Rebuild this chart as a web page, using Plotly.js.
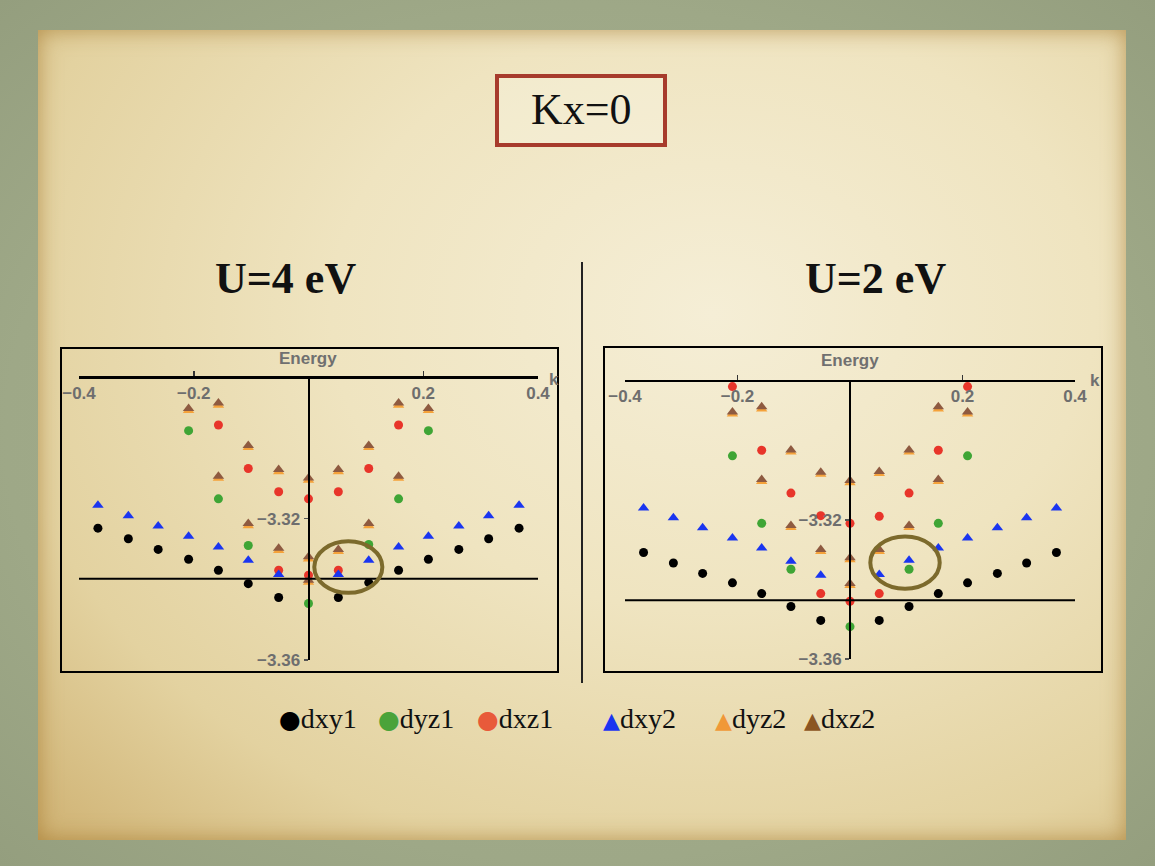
<!DOCTYPE html>
<html>
<head>
<meta charset="utf-8">
<script src="https://cdn.plot.ly/plotly-3.0.1.min.js"></script>
<style>
  body { margin: 0; width: 1155px; height: 866px; overflow: hidden;
         background: radial-gradient(ellipse at 50% 50%, #a9b391 0%, #9ea887 70%, #949e7e 100%); }
  #paper { position: absolute; left: 38px; top: 30px; width: 1088px; height: 810px;
           background: radial-gradient(ellipse at 62% 35%, #f5eed6 0%, #efe4c0 40%, #e3d2a0 75%, #cfb273 100%);
           box-shadow: inset 0 0 22px rgba(160, 115, 40, 0.65); }
  #chart { position: absolute; left: 0; top: 0; }
</style>
</head>
<body>
<div id="paper"></div>
<div id="chart"></div>
<script>
// k points (same grid in both panels)
var k = [-0.367, -0.314, -0.262, -0.209, -0.157, -0.105, -0.052, 0, 0.052, 0.105, 0.157, 0.209, 0.262, 0.314, 0.367];

// U = 4 eV
var dxy1_U4 = [-3.3227, -3.3257, -3.3287, -3.3315, -3.3346, -3.3384, -3.3423, null, -3.3423, -3.3381, -3.3346, -3.3315, -3.3287, -3.3257, -3.3227];
var dyz1_U4 = [null, null, null, -3.2951, -3.3144, -3.3276, null, -3.3440, null, -3.3273, -3.3144, -3.2951, null, null, null];
var dxz1_U4 = [null, null, null, null, -3.2935, -3.3058, -3.3124, -3.3144, -3.3124, -3.3058, -3.2935, null, null, null, null];
var dxz1b_U4 = [null, null, null, null, null, null, -3.3346, -3.3360, -3.3346, null, null, null, null, null, null];
var dxy2_U4 = [-3.3162, -3.3192, -3.3221, -3.3250, -3.3280, -3.3318, -3.3358, null, -3.3358, -3.3318, -3.3280, -3.3250, -3.3221, -3.3192, -3.3162];
var dyz2_U4 = [null, null, null, -3.2894, -3.2879, -3.2999, -3.3067, -3.3091, -3.3067, -3.2999, -3.2879, -3.2894, null, null, null];
var dyz2b_U4 = [null, null, null, null, -3.3086, -3.3220, -3.3290, -3.3314, -3.3293, -3.3220, -3.3086, null, null, null, null];
var dyz2c_U4 = [null, null, null, null, null, null, null, -3.3380, null, null, null, null, null, null, null];
var dxz2_U4 = [null, null, null, -3.2888, -3.2873, -3.2993, -3.3061, -3.3085, -3.3061, -3.2993, -3.2873, -3.2888, null, null, null];
var dxz2b_U4 = [null, null, null, null, -3.3080, -3.3214, -3.3284, -3.3308, -3.3287, -3.3214, -3.3080, null, null, null, null];
var dxz2c_U4 = [null, null, null, null, null, null, null, -3.3374, null, null, null, null, null, null, null];
var EF_U4 = -3.337;

// U = 2 eV
var dxy1_U2 = [-3.3294, -3.3324, -3.3354, -3.3381, -3.3412, -3.3449, -3.3489, null, -3.3489, -3.3449, -3.3412, -3.3381, -3.3354, -3.3324, -3.3294];
var dyz1_U2 = [null, null, null, -3.3016, -3.3210, -3.3342, null, -3.3507, null, -3.3342, -3.3210, -3.3016, null, null, null];
var dxz1_U2 = [null, null, null, -3.2817, -3.3000, -3.3123, -3.3188, -3.3210, -3.3190, -3.3123, -3.3000, -3.2817, null, null, null];
var dxz1b_U2 = [null, null, null, null, null, null, -3.3412, -3.3434, -3.3412, null, null, null, null, null, null];
var dxy2_U2 = [-3.3166, -3.3194, -3.3223, -3.3252, -3.3281, -3.3319, -3.3359, null, -3.3357, -3.3316, -3.3281, -3.3252, -3.3223, -3.3194, -3.3166];
var dyz2_U2 = [null, null, null, -3.2896, -3.2881, -3.3005, -3.3069, -3.3093, -3.3067, -3.3005, -3.2881, -3.2896, null, null, null];
var dyz2b_U2 = [null, null, null, null, -3.3090, -3.3222, -3.3291, -3.3315, -3.3291, -3.3222, -3.3090, null, null, null, null];
var dyz2c_U2 = [null, null, null, null, null, null, null, -3.3389, null, null, null, null, null, null, null];
var dxz2_U2 = [null, null, null, -3.2890, -3.2875, -3.2999, -3.3063, -3.3087, -3.3061, -3.2999, -3.2875, -3.2890, null, null, null];
var dxz2b_U2 = [null, null, null, null, -3.3084, -3.3216, -3.3285, -3.3309, -3.3285, -3.3216, -3.3084, null, null, null, null];
var dxz2c_U2 = [null, null, null, null, null, null, null, -3.3383, null, null, null, null, null, null, null];
var EF_U2 = -3.3431;

var names = ['dxy1', 'dyz1', 'dxz1', 'dxy2', 'dyz2', 'dxz2'];
var colors = ['#000000', '#3fa535', '#e8352a', '#1a35f0', '#f5a23a', '#8e5a40'];
var legendColors = ['#000000', '#4aa33a', '#e85a3a', '#1a35f0', '#f09838', '#8b5523'];
var symbols = ['circle', 'circle', 'circle', 'triangle-up', 'triangle-up', 'triangle-up'];

function series(i, branches, xa, ya) {
    var xs = [], ys = [];
    branches.forEach(function (b) { xs = xs.concat(k); ys = ys.concat(b); });
    return {
        x: xs, y: ys, xaxis: xa, yaxis: ya, type: 'scatter', mode: 'markers',
        name: names[i], showlegend: false, cliponaxis: false, hoverinfo: 'skip',
        marker: {color: colors[i], symbol: symbols[i], size: symbols[i] == 'circle' ? 9 : 10}
    };
}

var data = [
    series(0, [dxy1_U4], 'x', 'y'),
    series(1, [dyz1_U4], 'x', 'y'),
    series(2, [dxz1_U4, dxz1b_U4], 'x', 'y'),
    series(3, [dxy2_U4], 'x', 'y'),
    series(4, [dyz2_U4, dyz2b_U4, dyz2c_U4], 'x', 'y'),
    series(5, [dxz2_U4, dxz2b_U4, dxz2c_U4], 'x', 'y'),
    series(0, [dxy1_U2], 'x2', 'y2'),
    series(1, [dyz1_U2], 'x2', 'y2'),
    series(2, [dxz1_U2, dxz1b_U2], 'x2', 'y2'),
    series(3, [dxy2_U2], 'x2', 'y2'),
    series(4, [dyz2_U2, dyz2b_U2, dyz2c_U2], 'x2', 'y2'),
    series(5, [dxz2_U2, dxz2b_U2, dxz2c_U2], 'x2', 'y2')
];

var W = 1155, H = 866;
function px(x) { return x / W; }
function py(y) { return 1 - y / H; }

var tickFont = {family: 'Liberation Sans, Arial, sans-serif', size: 17, color: '#6e6e6e', weight: 'bold'};

function xAxis(x0, x1, ytop) {
    return {
        domain: [px(x0), px(x1)], range: [-0.4, 0.4], anchor: 'free', position: py(ytop), side: 'bottom',
        showgrid: false, zeroline: false, showline: true, linecolor: '#000', linewidth: 2.2,
        ticks: 'inside', ticklen: 5, tickwidth: 1.5, tickcolor: '#333',
        tickvals: [-0.4, -0.2, 0.2, 0.4], tickfont: tickFont, ticklabelstandoff: 0
    };
}
function yAxis(ybot, ytop, xzero) {
    return {
        domain: [py(ybot), py(ytop)], range: [-3.36, -3.28], anchor: 'free', position: px(xzero),
        showgrid: false, zeroline: false, showline: true, linecolor: '#000', linewidth: 2.2,
        ticks: 'outside', ticklen: 4, tickwidth: 1.5, tickcolor: '#555',
        tickvals: [-3.32, -3.36], tickfont: tickFont, ticklabelstandoff: 0
    };
}

var serif = 'Liberation Serif, Times New Roman, serif';

function ann(text, x, y, size, opts) {
    var a = {text: text, x: px(x), y: py(y), xref: 'paper', yref: 'paper', showarrow: false,
             xanchor: 'center', yanchor: 'middle',
             font: {family: serif, size: size, color: '#111'}};
    for (var key in opts) a[key] = opts[key];
    return a;
}

var labelFont = {family: 'Liberation Sans, Arial, sans-serif', size: 17, color: '#707070', weight: 'bold'};

var annotations = [
    ann('Kx=0', 581, 110, 44, {}),
    ann('<b>U=4 eV</b>', 285, 279, 44, {}),
    ann('<b>U=2 eV</b>', 875, 279, 44, {}),
    ann('Energy', 308, 358, 17, {font: labelFont}),
    ann('k', 554, 379, 18, {font: labelFont}),
    ann('Energy', 850, 360, 17, {font: labelFont}),
    ann('k', 1095, 381, 18, {font: labelFont})
];

// legend row
var legendX = [277, 376, 475, 601, 713, 802];
names.forEach(function (n, i) {
    var glyph = symbols[i] == 'circle' ? '●' : '▲';
    var gs = symbols[i] == 'circle' ? 25 : 22;
    annotations.push(ann('<span style="color:' + legendColors[i] + ';font-family:DejaVu Sans;font-size:' + gs + 'px">' + glyph + '</span>' + n,
        legendX[i], 718, 28, {xanchor: 'left'}));
});

var shapes = [
    // title box
    {type: 'rect', xref: 'paper', yref: 'paper', x0: px(497), x1: px(665), y0: py(145), y1: py(76),
     line: {color: '#a73b2c', width: 4}, fillcolor: 'rgba(250,245,228,0.35)'},
    // divider
    {type: 'line', xref: 'paper', yref: 'paper', x0: px(582), x1: px(582), y0: py(262), y1: py(683),
     line: {color: '#222', width: 2}},
    // panel frames
    {type: 'rect', xref: 'paper', yref: 'paper', x0: px(61), x1: px(558), y0: py(672), y1: py(348),
     line: {color: '#000', width: 2}},
    {type: 'rect', xref: 'paper', yref: 'paper', x0: px(604), x1: px(1102), y0: py(672), y1: py(347),
     line: {color: '#000', width: 2}},
    // Fermi level lines
    {type: 'line', xref: 'x', yref: 'y', x0: -0.4, x1: 0.4, y0: EF_U4, y1: EF_U4, line: {color: '#000', width: 2}},
    {type: 'line', xref: 'x2', yref: 'y2', x0: -0.4, x1: 0.4, y0: EF_U2, y1: EF_U2, line: {color: '#000', width: 2}},
    // highlight ellipses
    {type: 'circle', xref: 'x', yref: 'y', x0: 0.0101, x1: 0.1287, y0: -3.3410, y1: -3.3264,
     line: {color: '#7c6a2c', width: 4}},
    {type: 'circle', xref: 'x2', yref: 'y2', x0: 0.0361, x1: 0.1595, y0: -3.3398, y1: -3.3248,
     line: {color: '#7c6a2c', width: 4}}
];

var layout = {
    width: W, height: H, autosize: false,
    margin: {l: 0, r: 0, t: 0, b: 0},
    paper_bgcolor: 'rgba(0,0,0,0)', plot_bgcolor: 'rgba(0,0,0,0)',
    showlegend: false,
    xaxis: xAxis(79, 538, 377.3),
    yaxis: yAxis(660, 377.3, 308.5),
    xaxis2: xAxis(625, 1075, 380.7),
    yaxis2: yAxis(659, 380.7, 850),
    annotations: annotations,
    shapes: shapes
};

Plotly.newPlot('chart', data, layout, {displayModeBar: false, staticPlot: true});
</script>
</body>
</html>
